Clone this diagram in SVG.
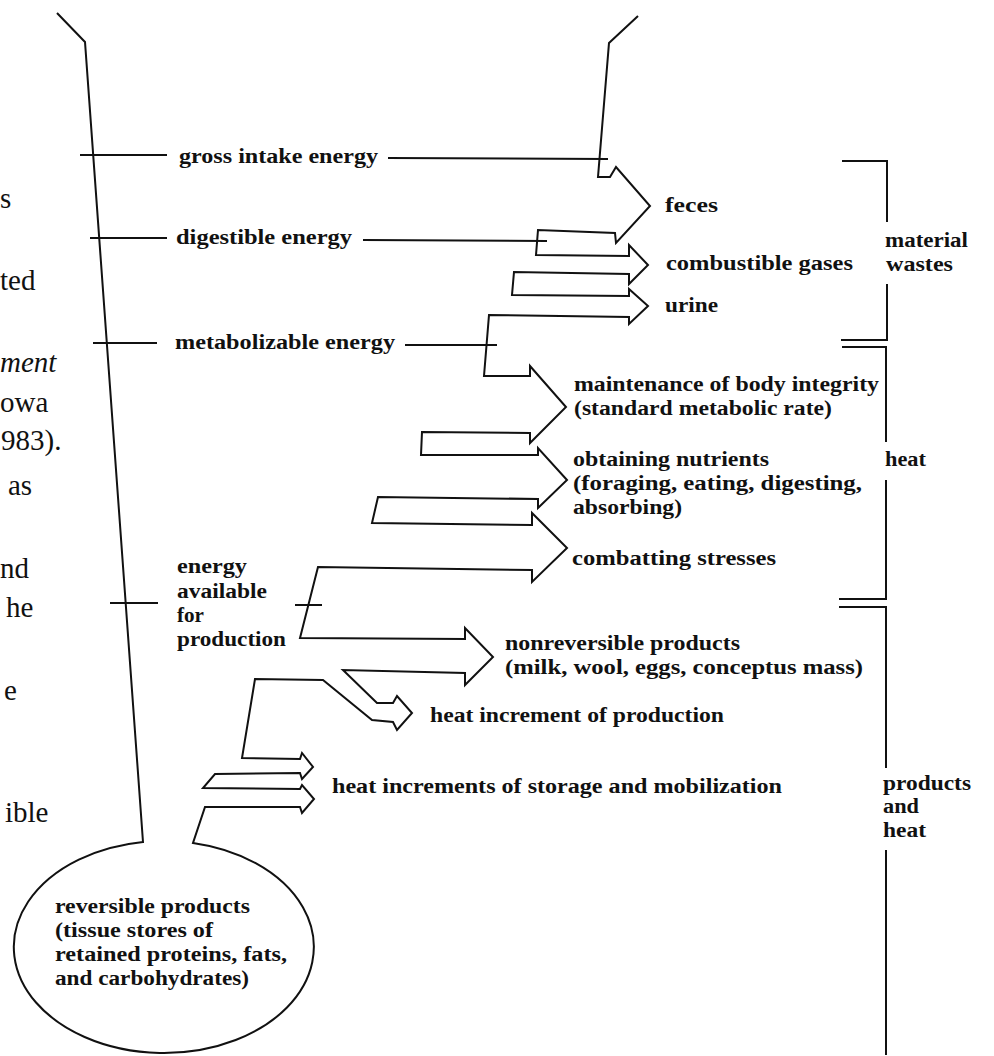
<svg xmlns="http://www.w3.org/2000/svg" width="994" height="1056" viewBox="0 0 994 1056">
<style>
.ln{fill:none;stroke:#111;stroke-width:2;stroke-linejoin:miter;stroke-linecap:butt}
.t{font-family:"Liberation Serif","Times New Roman",serif;font-size:20px;font-weight:bold;fill:#111}
.bleed{font-family:"Liberation Serif","Times New Roman",serif;font-size:29px;fill:#111}
</style>
<rect width="994" height="1056" fill="#fff"/>
<g id="page-bleed">
<text class="bleed" x="0" y="208">s</text>
<text class="bleed" x="0" y="290">ted</text>
<text class="bleed" x="0" y="372" font-style="italic">ment</text>
<text class="bleed" x="0" y="412">owa</text>
<text class="bleed" x="1" y="450">983).</text>
<text class="bleed" x="8" y="495">as</text>
<text class="bleed" x="0" y="578">nd</text>
<text class="bleed" x="6" y="617">he</text>
<text class="bleed" x="4" y="700">e</text>
<text class="bleed" x="5" y="822">ible</text>
</g>
<g id="connectors">
<path id="flow-outline" class="ln" d="M638,16 L609,43 L598,177 L610,177 L616,167 L650,206 L616,243 L615,233 L538,230 L536,255 L629,256 L629,245 L648,265 L629,284 L629,274 L514,272 L512,295 L629,296 L629,289 L648,306 L629,324 L629,317 L489,315 L484,376 L530,376 L530,366 L566,407 L530,443 L530,433 L422,432 L421,455 L538,455 L538,448 L567,480 L538,508 L538,499 L378,497 L372,523 L532,525 L532,513 L567,548 L532,582 L532,570 L318,567 L300,638 L465,639 L465,628 L493,657 L465,685 L465,673 L343,670 L377,703 L393,703 L397,696 L412,713 L397,730 L393,722 L372,720 L323,680 L255,679 L242,758 L300,759 L302,753 L313,767 L302,779 L300,773 L215,774 L203,788 L300,789 L302,785 L314,799 L302,813 L300,807 L205,807 L193,843 A150,106 0 1,1 143,842 L85,42 L57,13"/>
<path class="ln" d="M80,155 H167 M388,158 L608,159"/>
<path class="ln" d="M90,238 H167 M363,240 L547,241"/>
<path class="ln" d="M93,343 H157 M405,345 H497"/>
<path class="ln" d="M110,603 H158 M295,605 H322"/>
<path class="ln" d="M842,161 H887 V222 M887,284 V340 H841"/>
<path class="ln" d="M842,347 H886 V442 M886,480 V599 H839"/>
<path class="ln" d="M839,607 H886 V768 M886,850 V1055"/>
</g>
<g id="gross-intake-energy"><text class="t" x="179" y="163" textLength="199" lengthAdjust="spacingAndGlyphs">gross intake energy</text></g>
<g id="digestible-energy"><text class="t" x="176" y="244" textLength="176" lengthAdjust="spacingAndGlyphs">digestible energy</text></g>
<g id="metabolizable-energy"><text class="t" x="175" y="349" textLength="220" lengthAdjust="spacingAndGlyphs">metabolizable energy</text></g>
<g id="energy-available">
<text class="t" x="177" y="573" textLength="70" lengthAdjust="spacingAndGlyphs">energy</text>
<text class="t" x="177" y="598" textLength="90" lengthAdjust="spacingAndGlyphs">available</text>
<text class="t" x="177" y="622" textLength="27" lengthAdjust="spacingAndGlyphs">for</text>
<text class="t" x="177" y="646" textLength="109" lengthAdjust="spacingAndGlyphs">production</text>
</g>
<g id="feces"><text class="t" x="665" y="212" textLength="53" lengthAdjust="spacingAndGlyphs">feces</text></g>
<g id="combustible-gases"><text class="t" x="666" y="270" textLength="187" lengthAdjust="spacingAndGlyphs">combustible gases</text></g>
<g id="urine"><text class="t" x="665" y="312" textLength="53" lengthAdjust="spacingAndGlyphs">urine</text></g>
<g id="material-wastes">
<text class="t" x="885" y="247" textLength="83" lengthAdjust="spacingAndGlyphs">material</text>
<text class="t" x="886" y="271" textLength="67" lengthAdjust="spacingAndGlyphs">wastes</text>
</g>
<g id="maintenance">
<text class="t" x="574" y="391" textLength="305" lengthAdjust="spacingAndGlyphs">maintenance of body integrity</text>
<text class="t" x="574" y="415" textLength="258" lengthAdjust="spacingAndGlyphs">(standard metabolic rate)</text>
</g>
<g id="obtaining-nutrients">
<text class="t" x="573" y="466" textLength="196" lengthAdjust="spacingAndGlyphs">obtaining nutrients</text>
<text class="t" x="573" y="490" textLength="289" lengthAdjust="spacingAndGlyphs">(foraging, eating, digesting,</text>
<text class="t" x="573" y="514" textLength="109" lengthAdjust="spacingAndGlyphs">absorbing)</text>
</g>
<g id="combatting-stresses"><text class="t" x="572" y="565" textLength="204" lengthAdjust="spacingAndGlyphs">combatting stresses</text></g>
<g id="heat"><text class="t" x="885" y="466" textLength="41" lengthAdjust="spacingAndGlyphs">heat</text></g>
<g id="nonreversible-products">
<text class="t" x="505" y="650" textLength="235" lengthAdjust="spacingAndGlyphs">nonreversible products</text>
<text class="t" x="505" y="674" textLength="358" lengthAdjust="spacingAndGlyphs">(milk, wool, eggs, conceptus mass)</text>
</g>
<g id="heat-increment-production"><text class="t" x="430" y="722" textLength="294" lengthAdjust="spacingAndGlyphs">heat increment of production</text></g>
<g id="heat-increments-storage"><text class="t" x="332" y="793" textLength="450" lengthAdjust="spacingAndGlyphs">heat increments of storage and mobilization</text></g>
<g id="products-and-heat">
<text class="t" x="883" y="790" textLength="88" lengthAdjust="spacingAndGlyphs">products</text>
<text class="t" x="883" y="813" textLength="36" lengthAdjust="spacingAndGlyphs">and</text>
<text class="t" x="883" y="837" textLength="43" lengthAdjust="spacingAndGlyphs">heat</text>
</g>
<g id="reversible-products">
<text class="t" x="55" y="913" textLength="195" lengthAdjust="spacingAndGlyphs">reversible products</text>
<text class="t" x="55" y="937" textLength="158" lengthAdjust="spacingAndGlyphs">(tissue stores of</text>
<text class="t" x="55" y="961" textLength="232" lengthAdjust="spacingAndGlyphs">retained proteins, fats,</text>
<text class="t" x="55" y="985" textLength="194" lengthAdjust="spacingAndGlyphs">and carbohydrates)</text>
</g>
</svg>
